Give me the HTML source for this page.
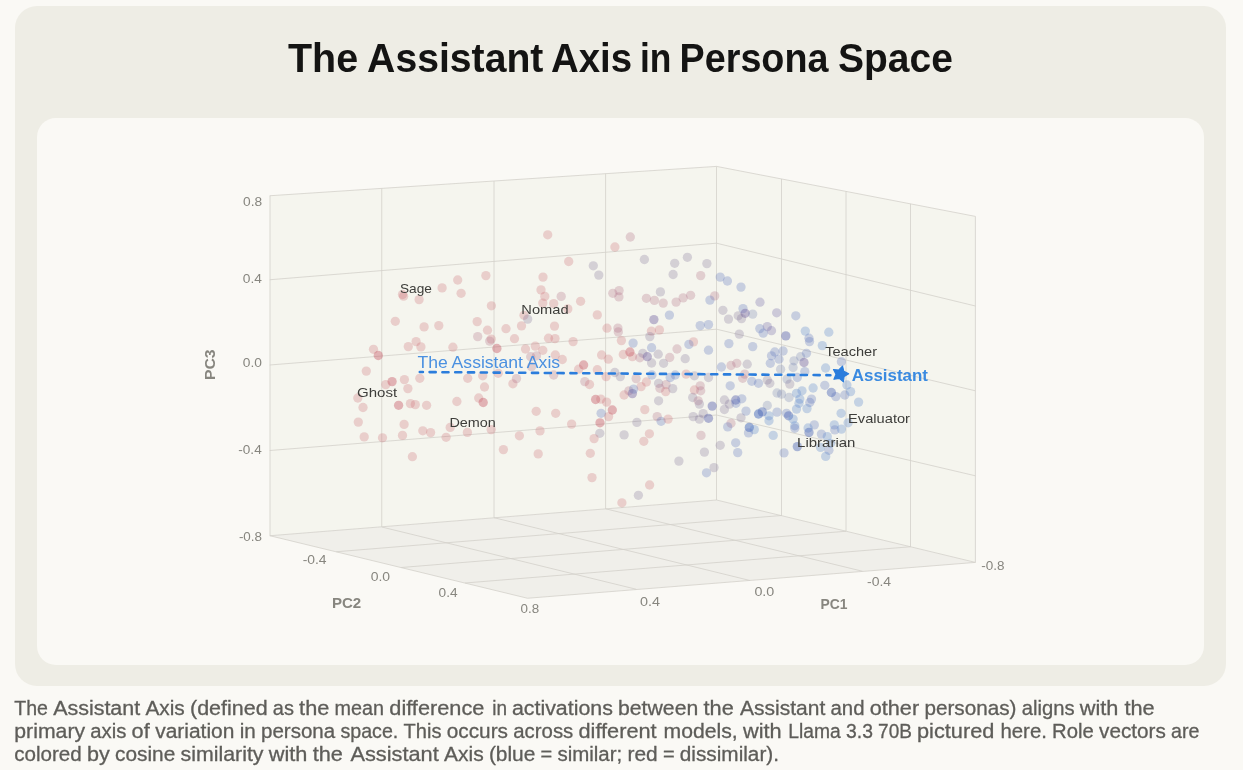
<!DOCTYPE html>
<html><head><meta charset="utf-8"><title>The Assistant Axis in Persona Space</title>
<style>
html,body{margin:0;padding:0;}
body{width:1243px;height:770px;background:#faf9f5;position:relative;overflow:hidden;font-family:"Liberation Sans",sans-serif;}
.outer{position:absolute;left:15px;top:6px;width:1210.5px;height:680px;background:#eeede5;border-radius:22px;}
.inner{position:absolute;left:37px;top:118px;width:1167px;height:546.5px;background:#faf9f5;border-radius:19px;}
svg{position:absolute;left:0;top:0;will-change:transform;}
svg text{font-family:"Liberation Sans",sans-serif;}
.ttl{font-size:41.5px;font-weight:bold;fill:#141413;}
.cap{font-size:19.6px;fill:#5e5d59;stroke:#5e5d59;stroke-width:0.3px;}
.tick{font-size:12.6px;fill:#87867f;}
.ax{font-size:15.3px;font-weight:bold;fill:#87867f;}
.lab{font-size:13.6px;fill:#3d3d3a;}
.axl{font-size:16.6px;fill:#4a90e0;}
.asst{font-size:16.2px;font-weight:bold;fill:#3a8ae0;}
</style></head><body>
<div class="outer"></div>
<div class="inner"></div>
<svg width="1243" height="770" viewBox="0 0 1243 770">
<polygon points="269.70,195.75 716.50,166.40 716.50,500.00 269.70,535.75" fill="#f5f5ee"/>
<polygon points="716.50,166.40 975.40,216.40 975.40,562.40 716.50,500.00" fill="#f5f5ee"/>
<polygon points="270.00,535.75 716.50,500.00 975.40,562.40 527.50,598.25" fill="#f0efea"/>
<path d="M269.70 195.75 L716.50 166.40 L975.40 216.40 M269.70 279.75 L716.50 243.20 L975.40 306.00 M269.70 365.00 L716.50 329.20 L975.40 390.80 M269.70 450.50 L716.50 415.00 L975.40 475.80 M269.70 535.75 L716.50 500.00 L975.40 562.40 M270.00 195.73 L270.00 535.73 M381.75 188.39 L381.75 526.78 M494.00 181.02 L494.00 517.80 M605.60 173.68 L605.60 508.87 M716.50 166.40 L716.50 500.00 M781.50 178.95 L781.50 515.67 M846.00 191.41 L846.00 531.21 M910.50 203.87 L910.50 546.76 M975.40 216.40 L975.40 562.40 M336.25 551.75 L781.50 515.50 M401.25 567.50 L846.00 531.25 M465.00 583.00 L910.50 546.75 M527.50 598.25 L975.40 562.40 M527.50 598.25 L270.00 535.75 M636.25 589.25 L381.75 527.00 M750.00 580.50 L494.00 517.70 M862.50 571.25 L605.60 508.80" fill="none" stroke="#d3d1ca" stroke-width="0.8"/>
<circle cx="402.5" cy="294.5" r="4.65" fill="rgba(203,102,112,0.27)"/>
<circle cx="403.6" cy="296.2" r="4.65" fill="rgba(203,102,112,0.27)"/>
<circle cx="419.1" cy="299.6" r="4.65" fill="rgba(203,102,112,0.27)"/>
<circle cx="442.1" cy="287.9" r="4.65" fill="rgba(203,102,112,0.27)"/>
<circle cx="457.7" cy="280.0" r="4.65" fill="rgba(203,102,112,0.27)"/>
<circle cx="461.1" cy="293.3" r="4.65" fill="rgba(203,102,112,0.27)"/>
<circle cx="485.9" cy="275.6" r="4.65" fill="rgba(203,102,112,0.27)"/>
<circle cx="491.4" cy="305.8" r="4.65" fill="rgba(203,102,112,0.27)"/>
<circle cx="547.7" cy="234.8" r="4.65" fill="rgba(203,102,112,0.27)"/>
<circle cx="543.0" cy="277.1" r="4.65" fill="rgba(203,102,112,0.27)"/>
<circle cx="541.0" cy="289.9" r="4.65" fill="rgba(203,102,112,0.27)"/>
<circle cx="544.8" cy="296.4" r="4.65" fill="rgba(203,102,112,0.27)"/>
<circle cx="542.8" cy="303.1" r="4.65" fill="rgba(203,102,112,0.27)"/>
<circle cx="395.3" cy="321.3" r="4.65" fill="rgba(203,102,112,0.27)"/>
<circle cx="424.1" cy="326.9" r="4.65" fill="rgba(203,102,112,0.27)"/>
<circle cx="438.8" cy="325.6" r="4.65" fill="rgba(203,102,112,0.27)"/>
<circle cx="477.2" cy="321.6" r="4.65" fill="rgba(203,102,112,0.27)"/>
<circle cx="487.5" cy="330.2" r="4.65" fill="rgba(203,102,112,0.27)"/>
<circle cx="477.7" cy="336.6" r="4.65" fill="rgba(172,104,128,0.28)"/>
<circle cx="491.2" cy="339.1" r="4.65" fill="rgba(203,102,112,0.27)"/>
<circle cx="489.7" cy="341.1" r="4.65" fill="rgba(172,104,128,0.28)"/>
<circle cx="506.0" cy="328.7" r="4.65" fill="rgba(203,102,112,0.27)"/>
<circle cx="521.5" cy="325.9" r="4.65" fill="rgba(203,102,112,0.27)"/>
<circle cx="524.0" cy="315.3" r="4.65" fill="rgba(203,102,112,0.27)"/>
<circle cx="527.7" cy="319.1" r="4.65" fill="rgba(126,112,152,0.28)"/>
<circle cx="514.5" cy="338.7" r="4.65" fill="rgba(203,102,112,0.27)"/>
<circle cx="548.5" cy="338.2" r="4.65" fill="rgba(203,102,112,0.27)"/>
<circle cx="416.1" cy="341.6" r="4.65" fill="rgba(203,102,112,0.27)"/>
<circle cx="408.3" cy="346.6" r="4.65" fill="rgba(203,102,112,0.27)"/>
<circle cx="420.9" cy="346.9" r="4.65" fill="rgba(203,102,112,0.27)"/>
<circle cx="373.5" cy="349.3" r="4.65" fill="rgba(203,102,112,0.27)"/>
<circle cx="452.9" cy="347.2" r="4.65" fill="rgba(203,102,112,0.27)"/>
<circle cx="496.9" cy="348.5" r="4.65" fill="rgba(198,86,100,0.42)"/>
<circle cx="525.5" cy="349.0" r="4.65" fill="rgba(203,102,112,0.27)"/>
<circle cx="535.3" cy="346.1" r="4.65" fill="rgba(203,102,112,0.27)"/>
<circle cx="542.8" cy="350.3" r="4.65" fill="rgba(203,102,112,0.27)"/>
<circle cx="630.3" cy="237.0" r="4.65" fill="rgba(172,104,128,0.28)"/>
<circle cx="614.9" cy="247.0" r="4.65" fill="rgba(203,102,112,0.27)"/>
<circle cx="568.7" cy="261.5" r="4.65" fill="rgba(203,102,112,0.27)"/>
<circle cx="593.3" cy="265.8" r="4.65" fill="rgba(126,112,152,0.28)"/>
<circle cx="598.8" cy="275.1" r="4.65" fill="rgba(126,112,152,0.28)"/>
<circle cx="644.4" cy="259.5" r="4.65" fill="rgba(126,112,152,0.28)"/>
<circle cx="674.7" cy="263.3" r="4.65" fill="rgba(126,112,152,0.28)"/>
<circle cx="687.4" cy="257.3" r="4.65" fill="rgba(126,112,152,0.28)"/>
<circle cx="706.9" cy="263.6" r="4.65" fill="rgba(126,112,152,0.28)"/>
<circle cx="673.1" cy="274.5" r="4.65" fill="rgba(126,112,152,0.28)"/>
<circle cx="700.7" cy="275.6" r="4.65" fill="rgba(172,104,128,0.28)"/>
<circle cx="720.2" cy="277.1" r="4.65" fill="rgba(92,116,190,0.30)"/>
<circle cx="727.4" cy="281.0" r="4.65" fill="rgba(92,116,190,0.30)"/>
<circle cx="741.0" cy="287.1" r="4.65" fill="rgba(92,116,190,0.30)"/>
<circle cx="561.2" cy="296.4" r="4.65" fill="rgba(172,104,128,0.28)"/>
<circle cx="580.6" cy="301.3" r="4.65" fill="rgba(203,102,112,0.27)"/>
<circle cx="553.7" cy="303.6" r="4.65" fill="rgba(203,102,112,0.27)"/>
<circle cx="567.8" cy="308.9" r="4.65" fill="rgba(203,102,112,0.27)"/>
<circle cx="597.3" cy="314.9" r="4.65" fill="rgba(203,102,112,0.27)"/>
<circle cx="612.8" cy="293.3" r="4.65" fill="rgba(172,104,128,0.28)"/>
<circle cx="619.1" cy="290.6" r="4.65" fill="rgba(172,104,128,0.28)"/>
<circle cx="618.9" cy="296.9" r="4.65" fill="rgba(172,104,128,0.28)"/>
<circle cx="660.4" cy="291.9" r="4.65" fill="rgba(126,112,152,0.28)"/>
<circle cx="646.4" cy="298.3" r="4.65" fill="rgba(172,104,128,0.28)"/>
<circle cx="654.4" cy="300.4" r="4.65" fill="rgba(172,104,128,0.28)"/>
<circle cx="663.2" cy="303.1" r="4.65" fill="rgba(172,104,128,0.28)"/>
<circle cx="676.1" cy="302.1" r="4.65" fill="rgba(172,104,128,0.28)"/>
<circle cx="683.1" cy="297.9" r="4.65" fill="rgba(172,104,128,0.28)"/>
<circle cx="690.6" cy="295.3" r="4.65" fill="rgba(172,104,128,0.28)"/>
<circle cx="714.7" cy="295.9" r="4.65" fill="rgba(172,104,128,0.28)"/>
<circle cx="709.9" cy="300.1" r="4.65" fill="rgba(92,116,190,0.30)"/>
<circle cx="760.0" cy="302.2" r="4.65" fill="rgba(110,100,165,0.30)"/>
<circle cx="722.9" cy="310.3" r="4.65" fill="rgba(126,112,152,0.28)"/>
<circle cx="728.5" cy="319.1" r="4.65" fill="rgba(126,112,152,0.28)"/>
<circle cx="738.2" cy="315.8" r="4.65" fill="rgba(126,112,152,0.28)"/>
<circle cx="743.0" cy="308.6" r="4.65" fill="rgba(92,116,190,0.30)"/>
<circle cx="745.2" cy="313.3" r="4.65" fill="rgba(112,96,160,0.42)"/>
<circle cx="741.5" cy="318.6" r="4.65" fill="rgba(126,112,152,0.28)"/>
<circle cx="752.7" cy="314.1" r="4.65" fill="rgba(112,124,176,0.28)"/>
<circle cx="669.4" cy="315.1" r="4.65" fill="rgba(92,116,190,0.30)"/>
<circle cx="653.9" cy="319.6" r="4.65" fill="rgba(112,96,160,0.42)"/>
<circle cx="554.5" cy="326.1" r="4.65" fill="rgba(203,102,112,0.27)"/>
<circle cx="607.0" cy="328.2" r="4.65" fill="rgba(203,102,112,0.27)"/>
<circle cx="617.9" cy="328.1" r="4.65" fill="rgba(172,104,128,0.28)"/>
<circle cx="618.3" cy="331.9" r="4.65" fill="rgba(172,104,128,0.28)"/>
<circle cx="659.4" cy="329.9" r="4.65" fill="rgba(203,102,112,0.27)"/>
<circle cx="651.4" cy="331.1" r="4.65" fill="rgba(203,102,112,0.27)"/>
<circle cx="649.8" cy="336.6" r="4.65" fill="rgba(126,112,152,0.28)"/>
<circle cx="700.2" cy="325.6" r="4.65" fill="rgba(92,116,190,0.30)"/>
<circle cx="708.5" cy="324.6" r="4.65" fill="rgba(92,116,190,0.30)"/>
<circle cx="759.8" cy="328.6" r="4.65" fill="rgba(92,116,190,0.30)"/>
<circle cx="739.3" cy="334.1" r="4.65" fill="rgba(126,112,152,0.28)"/>
<circle cx="555.0" cy="338.6" r="4.65" fill="rgba(203,102,112,0.27)"/>
<circle cx="573.1" cy="341.6" r="4.65" fill="rgba(203,102,112,0.27)"/>
<circle cx="621.4" cy="340.6" r="4.65" fill="rgba(203,102,112,0.27)"/>
<circle cx="633.1" cy="343.1" r="4.65" fill="rgba(92,116,190,0.30)"/>
<circle cx="651.6" cy="347.7" r="4.65" fill="rgba(92,116,190,0.30)"/>
<circle cx="629.9" cy="352.0" r="4.65" fill="rgba(198,86,100,0.42)"/>
<circle cx="677.0" cy="349.0" r="4.65" fill="rgba(172,104,128,0.28)"/>
<circle cx="693.5" cy="341.9" r="4.65" fill="rgba(203,102,112,0.27)"/>
<circle cx="688.9" cy="344.4" r="4.65" fill="rgba(92,116,190,0.30)"/>
<circle cx="708.5" cy="350.2" r="4.65" fill="rgba(92,116,190,0.30)"/>
<circle cx="728.9" cy="343.6" r="4.65" fill="rgba(92,116,190,0.30)"/>
<circle cx="752.7" cy="346.6" r="4.65" fill="rgba(92,116,190,0.30)"/>
<circle cx="776.7" cy="312.8" r="4.65" fill="rgba(110,100,165,0.30)"/>
<circle cx="795.8" cy="315.8" r="4.65" fill="rgba(92,116,190,0.30)"/>
<circle cx="767.3" cy="326.6" r="4.65" fill="rgba(110,100,165,0.30)"/>
<circle cx="771.5" cy="330.7" r="4.65" fill="rgba(110,100,165,0.30)"/>
<circle cx="763.2" cy="333.2" r="4.65" fill="rgba(92,116,190,0.30)"/>
<circle cx="785.8" cy="335.9" r="4.65" fill="rgba(92,100,172,0.45)"/>
<circle cx="805.3" cy="331.1" r="4.65" fill="rgba(94,138,206,0.32)"/>
<circle cx="809.0" cy="338.2" r="4.65" fill="rgba(92,116,190,0.30)"/>
<circle cx="809.5" cy="341.6" r="4.65" fill="rgba(92,116,190,0.30)"/>
<circle cx="828.8" cy="332.2" r="4.65" fill="rgba(94,138,206,0.32)"/>
<circle cx="822.3" cy="345.6" r="4.65" fill="rgba(94,138,206,0.32)"/>
<circle cx="378.3" cy="355.5" r="4.65" fill="rgba(198,86,100,0.42)"/>
<circle cx="366.3" cy="371.1" r="4.65" fill="rgba(203,102,112,0.27)"/>
<circle cx="385.8" cy="384.6" r="4.65" fill="rgba(203,102,112,0.27)"/>
<circle cx="392.1" cy="381.6" r="4.65" fill="rgba(198,86,100,0.42)"/>
<circle cx="404.4" cy="379.6" r="4.65" fill="rgba(203,102,112,0.27)"/>
<circle cx="407.9" cy="388.6" r="4.65" fill="rgba(203,102,112,0.27)"/>
<circle cx="419.8" cy="378.3" r="4.65" fill="rgba(203,102,112,0.27)"/>
<circle cx="357.8" cy="398.0" r="4.65" fill="rgba(203,102,112,0.27)"/>
<circle cx="363.0" cy="407.5" r="4.65" fill="rgba(203,102,112,0.27)"/>
<circle cx="358.3" cy="422.1" r="4.65" fill="rgba(203,102,112,0.27)"/>
<circle cx="364.2" cy="436.9" r="4.65" fill="rgba(203,102,112,0.27)"/>
<circle cx="382.5" cy="437.8" r="4.65" fill="rgba(203,102,112,0.27)"/>
<circle cx="398.6" cy="405.3" r="4.65" fill="rgba(198,86,100,0.42)"/>
<circle cx="410.4" cy="403.6" r="4.65" fill="rgba(203,102,112,0.27)"/>
<circle cx="415.3" cy="404.6" r="4.65" fill="rgba(203,102,112,0.27)"/>
<circle cx="426.6" cy="405.3" r="4.65" fill="rgba(203,102,112,0.27)"/>
<circle cx="404.1" cy="424.4" r="4.65" fill="rgba(203,102,112,0.27)"/>
<circle cx="402.5" cy="435.4" r="4.65" fill="rgba(203,102,112,0.27)"/>
<circle cx="422.8" cy="430.8" r="4.65" fill="rgba(203,102,112,0.27)"/>
<circle cx="430.6" cy="432.6" r="4.65" fill="rgba(203,102,112,0.27)"/>
<circle cx="412.4" cy="456.7" r="4.65" fill="rgba(203,102,112,0.27)"/>
<circle cx="456.9" cy="401.5" r="4.65" fill="rgba(203,102,112,0.27)"/>
<circle cx="450.2" cy="427.4" r="4.65" fill="rgba(203,102,112,0.27)"/>
<circle cx="446.1" cy="437.3" r="4.65" fill="rgba(203,102,112,0.27)"/>
<circle cx="467.4" cy="432.4" r="4.65" fill="rgba(203,102,112,0.27)"/>
<circle cx="467.7" cy="378.3" r="4.65" fill="rgba(203,102,112,0.27)"/>
<circle cx="482.7" cy="375.8" r="4.65" fill="rgba(203,102,112,0.27)"/>
<circle cx="484.5" cy="387.0" r="4.65" fill="rgba(203,102,112,0.27)"/>
<circle cx="478.7" cy="398.0" r="4.65" fill="rgba(203,102,112,0.27)"/>
<circle cx="483.2" cy="402.5" r="4.65" fill="rgba(198,86,100,0.42)"/>
<circle cx="491.2" cy="429.6" r="4.65" fill="rgba(203,102,112,0.27)"/>
<circle cx="498.2" cy="373.3" r="4.65" fill="rgba(203,102,112,0.27)"/>
<circle cx="512.9" cy="383.8" r="4.65" fill="rgba(203,102,112,0.27)"/>
<circle cx="516.5" cy="378.6" r="4.65" fill="rgba(172,104,128,0.28)"/>
<circle cx="536.2" cy="411.3" r="4.65" fill="rgba(203,102,112,0.27)"/>
<circle cx="519.4" cy="435.8" r="4.65" fill="rgba(203,102,112,0.27)"/>
<circle cx="540.0" cy="430.9" r="4.65" fill="rgba(203,102,112,0.27)"/>
<circle cx="503.4" cy="449.6" r="4.65" fill="rgba(203,102,112,0.27)"/>
<circle cx="538.2" cy="453.9" r="4.65" fill="rgba(203,102,112,0.27)"/>
<circle cx="530.7" cy="356.7" r="4.65" fill="rgba(172,104,128,0.28)"/>
<circle cx="536.5" cy="355.8" r="4.65" fill="rgba(172,104,128,0.28)"/>
<circle cx="531.5" cy="366.7" r="4.65" fill="rgba(172,104,128,0.28)"/>
<circle cx="555.3" cy="355.0" r="4.65" fill="rgba(203,102,112,0.27)"/>
<circle cx="562.3" cy="359.5" r="4.65" fill="rgba(203,102,112,0.27)"/>
<circle cx="601.6" cy="355.0" r="4.65" fill="rgba(203,102,112,0.27)"/>
<circle cx="608.3" cy="359.2" r="4.65" fill="rgba(203,102,112,0.27)"/>
<circle cx="583.6" cy="365.0" r="4.65" fill="rgba(198,86,100,0.42)"/>
<circle cx="578.6" cy="369.2" r="4.65" fill="rgba(203,102,112,0.27)"/>
<circle cx="597.3" cy="369.7" r="4.65" fill="rgba(203,102,112,0.27)"/>
<circle cx="623.3" cy="354.5" r="4.65" fill="rgba(203,102,112,0.27)"/>
<circle cx="632.4" cy="356.7" r="4.65" fill="rgba(203,102,112,0.27)"/>
<circle cx="639.8" cy="357.8" r="4.65" fill="rgba(172,104,128,0.28)"/>
<circle cx="642.8" cy="353.3" r="4.65" fill="rgba(126,112,152,0.28)"/>
<circle cx="647.3" cy="356.7" r="4.65" fill="rgba(112,96,160,0.42)"/>
<circle cx="651.6" cy="363.0" r="4.65" fill="rgba(126,112,152,0.28)"/>
<circle cx="658.2" cy="354.2" r="4.65" fill="rgba(126,112,152,0.28)"/>
<circle cx="663.6" cy="363.3" r="4.65" fill="rgba(126,112,152,0.28)"/>
<circle cx="669.7" cy="357.5" r="4.65" fill="rgba(172,104,128,0.28)"/>
<circle cx="685.2" cy="358.7" r="4.65" fill="rgba(126,112,152,0.28)"/>
<circle cx="721.4" cy="367.0" r="4.65" fill="rgba(92,116,190,0.30)"/>
<circle cx="731.0" cy="365.5" r="4.65" fill="rgba(172,104,128,0.28)"/>
<circle cx="736.8" cy="363.3" r="4.65" fill="rgba(172,104,128,0.28)"/>
<circle cx="747.2" cy="364.2" r="4.65" fill="rgba(126,112,152,0.28)"/>
<circle cx="553.7" cy="375.0" r="4.65" fill="rgba(172,104,128,0.28)"/>
<circle cx="584.8" cy="381.6" r="4.65" fill="rgba(172,104,128,0.28)"/>
<circle cx="589.5" cy="384.5" r="4.65" fill="rgba(203,102,112,0.27)"/>
<circle cx="606.1" cy="376.6" r="4.65" fill="rgba(203,102,112,0.27)"/>
<circle cx="614.8" cy="372.5" r="4.65" fill="rgba(126,112,152,0.28)"/>
<circle cx="620.3" cy="376.6" r="4.65" fill="rgba(126,112,152,0.28)"/>
<circle cx="636.1" cy="378.6" r="4.65" fill="rgba(172,104,128,0.28)"/>
<circle cx="646.4" cy="382.0" r="4.65" fill="rgba(203,102,112,0.27)"/>
<circle cx="641.1" cy="386.6" r="4.65" fill="rgba(203,102,112,0.27)"/>
<circle cx="651.9" cy="375.0" r="4.65" fill="rgba(92,116,190,0.30)"/>
<circle cx="658.6" cy="383.3" r="4.65" fill="rgba(126,112,152,0.28)"/>
<circle cx="659.9" cy="388.3" r="4.65" fill="rgba(172,104,128,0.28)"/>
<circle cx="666.1" cy="384.6" r="4.65" fill="rgba(172,104,128,0.28)"/>
<circle cx="665.7" cy="391.6" r="4.65" fill="rgba(203,102,112,0.27)"/>
<circle cx="672.7" cy="388.6" r="4.65" fill="rgba(126,112,152,0.28)"/>
<circle cx="670.2" cy="377.5" r="4.65" fill="rgba(92,116,190,0.30)"/>
<circle cx="675.2" cy="375.0" r="4.65" fill="rgba(92,116,190,0.30)"/>
<circle cx="686.1" cy="374.1" r="4.65" fill="rgba(203,102,112,0.27)"/>
<circle cx="694.4" cy="375.8" r="4.65" fill="rgba(126,112,152,0.28)"/>
<circle cx="708.5" cy="377.5" r="4.65" fill="rgba(126,112,152,0.28)"/>
<circle cx="700.2" cy="385.8" r="4.65" fill="rgba(172,104,128,0.28)"/>
<circle cx="694.4" cy="390.0" r="4.65" fill="rgba(203,102,112,0.27)"/>
<circle cx="700.7" cy="390.8" r="4.65" fill="rgba(172,104,128,0.28)"/>
<circle cx="730.2" cy="385.8" r="4.65" fill="rgba(92,116,190,0.30)"/>
<circle cx="744.7" cy="374.1" r="4.65" fill="rgba(172,104,128,0.28)"/>
<circle cx="742.7" cy="378.3" r="4.65" fill="rgba(172,104,128,0.28)"/>
<circle cx="751.8" cy="381.3" r="4.65" fill="rgba(92,116,190,0.30)"/>
<circle cx="758.5" cy="383.3" r="4.65" fill="rgba(92,116,190,0.30)"/>
<circle cx="624.1" cy="395.0" r="4.65" fill="rgba(203,102,112,0.27)"/>
<circle cx="628.9" cy="390.8" r="4.65" fill="rgba(172,104,128,0.28)"/>
<circle cx="632.4" cy="393.6" r="4.65" fill="rgba(112,96,160,0.42)"/>
<circle cx="633.6" cy="389.1" r="4.65" fill="rgba(92,116,190,0.30)"/>
<circle cx="658.6" cy="400.8" r="4.65" fill="rgba(126,112,152,0.28)"/>
<circle cx="692.7" cy="397.5" r="4.65" fill="rgba(126,112,152,0.28)"/>
<circle cx="698.2" cy="400.8" r="4.65" fill="rgba(172,104,128,0.28)"/>
<circle cx="699.4" cy="404.1" r="4.65" fill="rgba(126,112,152,0.28)"/>
<circle cx="712.2" cy="406.1" r="4.65" fill="rgba(92,100,172,0.45)"/>
<circle cx="724.4" cy="400.0" r="4.65" fill="rgba(126,112,152,0.28)"/>
<circle cx="729.4" cy="404.1" r="4.65" fill="rgba(126,112,152,0.28)"/>
<circle cx="735.7" cy="400.0" r="4.65" fill="rgba(92,100,172,0.45)"/>
<circle cx="736.0" cy="403.3" r="4.65" fill="rgba(92,116,190,0.30)"/>
<circle cx="741.8" cy="398.8" r="4.65" fill="rgba(92,116,190,0.30)"/>
<circle cx="724.4" cy="409.5" r="4.65" fill="rgba(126,112,152,0.28)"/>
<circle cx="746.0" cy="411.1" r="4.65" fill="rgba(92,116,190,0.30)"/>
<circle cx="758.5" cy="414.0" r="4.65" fill="rgba(70,106,188,0.50)"/>
<circle cx="595.6" cy="399.5" r="4.65" fill="rgba(198,86,100,0.42)"/>
<circle cx="600.8" cy="399.1" r="4.65" fill="rgba(203,102,112,0.27)"/>
<circle cx="606.6" cy="402.1" r="4.65" fill="rgba(203,102,112,0.27)"/>
<circle cx="612.3" cy="410.0" r="4.65" fill="rgba(198,86,100,0.42)"/>
<circle cx="608.6" cy="416.6" r="4.65" fill="rgba(203,102,112,0.27)"/>
<circle cx="601.1" cy="413.3" r="4.65" fill="rgba(92,116,190,0.30)"/>
<circle cx="555.7" cy="413.3" r="4.65" fill="rgba(203,102,112,0.27)"/>
<circle cx="644.8" cy="409.6" r="4.65" fill="rgba(203,102,112,0.27)"/>
<circle cx="657.2" cy="416.6" r="4.65" fill="rgba(172,104,128,0.28)"/>
<circle cx="661.1" cy="421.3" r="4.65" fill="rgba(92,116,190,0.30)"/>
<circle cx="668.1" cy="419.1" r="4.65" fill="rgba(203,102,112,0.27)"/>
<circle cx="636.9" cy="422.4" r="4.65" fill="rgba(126,112,152,0.28)"/>
<circle cx="600.0" cy="422.8" r="4.65" fill="rgba(198,86,100,0.42)"/>
<circle cx="571.6" cy="424.1" r="4.65" fill="rgba(203,102,112,0.27)"/>
<circle cx="693.2" cy="416.6" r="4.65" fill="rgba(126,112,152,0.28)"/>
<circle cx="699.4" cy="419.1" r="4.65" fill="rgba(126,112,152,0.28)"/>
<circle cx="703.2" cy="413.6" r="4.65" fill="rgba(126,112,152,0.28)"/>
<circle cx="708.5" cy="418.3" r="4.65" fill="rgba(92,100,172,0.45)"/>
<circle cx="741.0" cy="417.8" r="4.65" fill="rgba(126,112,152,0.28)"/>
<circle cx="731.0" cy="423.3" r="4.65" fill="rgba(172,104,128,0.28)"/>
<circle cx="727.7" cy="426.9" r="4.65" fill="rgba(92,116,190,0.30)"/>
<circle cx="749.3" cy="427.4" r="4.65" fill="rgba(70,106,188,0.50)"/>
<circle cx="754.3" cy="429.6" r="4.65" fill="rgba(94,138,206,0.32)"/>
<circle cx="748.5" cy="432.9" r="4.65" fill="rgba(92,116,190,0.30)"/>
<circle cx="599.8" cy="433.3" r="4.65" fill="rgba(126,112,152,0.28)"/>
<circle cx="594.1" cy="438.6" r="4.65" fill="rgba(203,102,112,0.27)"/>
<circle cx="590.3" cy="453.3" r="4.65" fill="rgba(203,102,112,0.27)"/>
<circle cx="592.0" cy="477.6" r="4.65" fill="rgba(203,102,112,0.27)"/>
<circle cx="624.1" cy="434.9" r="4.65" fill="rgba(126,112,152,0.28)"/>
<circle cx="649.4" cy="433.8" r="4.65" fill="rgba(203,102,112,0.27)"/>
<circle cx="643.8" cy="441.3" r="4.65" fill="rgba(203,102,112,0.27)"/>
<circle cx="701.0" cy="435.4" r="4.65" fill="rgba(172,104,128,0.28)"/>
<circle cx="704.4" cy="452.1" r="4.65" fill="rgba(126,112,152,0.28)"/>
<circle cx="720.2" cy="445.3" r="4.65" fill="rgba(126,112,152,0.28)"/>
<circle cx="735.7" cy="442.8" r="4.65" fill="rgba(92,116,190,0.30)"/>
<circle cx="737.7" cy="452.6" r="4.65" fill="rgba(92,116,190,0.30)"/>
<circle cx="678.9" cy="461.1" r="4.65" fill="rgba(126,112,152,0.28)"/>
<circle cx="714.0" cy="467.6" r="4.65" fill="rgba(126,112,152,0.28)"/>
<circle cx="706.5" cy="472.8" r="4.65" fill="rgba(92,116,190,0.30)"/>
<circle cx="649.6" cy="485.0" r="4.65" fill="rgba(203,102,112,0.27)"/>
<circle cx="638.4" cy="495.3" r="4.65" fill="rgba(126,112,152,0.28)"/>
<circle cx="621.9" cy="502.8" r="4.65" fill="rgba(203,102,112,0.27)"/>
<circle cx="771.5" cy="355.8" r="4.65" fill="rgba(92,116,190,0.30)"/>
<circle cx="774.8" cy="352.0" r="4.65" fill="rgba(92,116,190,0.30)"/>
<circle cx="783.1" cy="351.0" r="4.65" fill="rgba(92,116,190,0.30)"/>
<circle cx="770.3" cy="363.3" r="4.65" fill="rgba(92,116,190,0.30)"/>
<circle cx="779.0" cy="359.2" r="4.65" fill="rgba(92,116,190,0.30)"/>
<circle cx="794.0" cy="360.8" r="4.65" fill="rgba(112,124,176,0.28)"/>
<circle cx="800.6" cy="356.7" r="4.65" fill="rgba(112,124,176,0.28)"/>
<circle cx="804.0" cy="362.5" r="4.65" fill="rgba(112,96,160,0.42)"/>
<circle cx="806.5" cy="353.3" r="4.65" fill="rgba(92,116,190,0.30)"/>
<circle cx="780.6" cy="369.2" r="4.65" fill="rgba(112,124,176,0.28)"/>
<circle cx="793.1" cy="367.5" r="4.65" fill="rgba(112,124,176,0.28)"/>
<circle cx="804.8" cy="371.6" r="4.65" fill="rgba(92,116,190,0.30)"/>
<circle cx="825.6" cy="368.0" r="4.65" fill="rgba(94,138,206,0.32)"/>
<circle cx="841.4" cy="361.7" r="4.65" fill="rgba(92,116,190,0.30)"/>
<circle cx="797.3" cy="377.5" r="4.65" fill="rgba(92,116,190,0.30)"/>
<circle cx="787.0" cy="379.1" r="4.65" fill="rgba(112,124,176,0.28)"/>
<circle cx="789.8" cy="384.1" r="4.65" fill="rgba(126,112,152,0.28)"/>
<circle cx="767.3" cy="380.0" r="4.65" fill="rgba(126,112,152,0.28)"/>
<circle cx="769.8" cy="383.3" r="4.65" fill="rgba(126,112,152,0.28)"/>
<circle cx="824.8" cy="385.3" r="4.65" fill="rgba(92,116,190,0.30)"/>
<circle cx="813.1" cy="388.0" r="4.65" fill="rgba(94,138,206,0.32)"/>
<circle cx="802.0" cy="390.8" r="4.65" fill="rgba(94,138,206,0.32)"/>
<circle cx="796.5" cy="393.3" r="4.65" fill="rgba(94,138,206,0.32)"/>
<circle cx="777.0" cy="393.0" r="4.65" fill="rgba(112,124,176,0.28)"/>
<circle cx="781.5" cy="394.1" r="4.65" fill="rgba(112,124,176,0.28)"/>
<circle cx="789.0" cy="397.5" r="4.65" fill="rgba(112,124,176,0.28)"/>
<circle cx="799.8" cy="399.1" r="4.65" fill="rgba(94,138,206,0.32)"/>
<circle cx="811.5" cy="399.1" r="4.65" fill="rgba(92,116,190,0.30)"/>
<circle cx="809.8" cy="402.5" r="4.65" fill="rgba(92,116,190,0.30)"/>
<circle cx="799.0" cy="403.3" r="4.65" fill="rgba(94,138,206,0.32)"/>
<circle cx="807.0" cy="408.6" r="4.65" fill="rgba(94,138,206,0.32)"/>
<circle cx="796.5" cy="409.1" r="4.65" fill="rgba(94,138,206,0.32)"/>
<circle cx="831.4" cy="392.5" r="4.65" fill="rgba(78,104,182,0.46)"/>
<circle cx="835.9" cy="396.6" r="4.65" fill="rgba(92,116,190,0.30)"/>
<circle cx="844.8" cy="395.0" r="4.65" fill="rgba(92,116,190,0.30)"/>
<circle cx="850.6" cy="391.6" r="4.65" fill="rgba(94,138,206,0.32)"/>
<circle cx="846.9" cy="385.0" r="4.65" fill="rgba(94,138,206,0.32)"/>
<circle cx="858.6" cy="402.1" r="4.65" fill="rgba(94,138,206,0.32)"/>
<circle cx="767.3" cy="405.5" r="4.65" fill="rgba(112,124,176,0.28)"/>
<circle cx="762.3" cy="411.9" r="4.65" fill="rgba(78,104,182,0.46)"/>
<circle cx="769.0" cy="415.8" r="4.65" fill="rgba(94,138,206,0.32)"/>
<circle cx="769.0" cy="420.8" r="4.65" fill="rgba(94,138,206,0.32)"/>
<circle cx="777.0" cy="412.1" r="4.65" fill="rgba(92,116,190,0.30)"/>
<circle cx="786.5" cy="413.3" r="4.65" fill="rgba(92,116,190,0.30)"/>
<circle cx="788.6" cy="415.8" r="4.65" fill="rgba(78,104,182,0.46)"/>
<circle cx="793.1" cy="419.1" r="4.65" fill="rgba(94,138,206,0.32)"/>
<circle cx="794.8" cy="425.8" r="4.65" fill="rgba(94,138,206,0.32)"/>
<circle cx="794.8" cy="428.3" r="4.65" fill="rgba(92,116,190,0.30)"/>
<circle cx="841.1" cy="413.3" r="4.65" fill="rgba(94,138,206,0.32)"/>
<circle cx="814.3" cy="424.9" r="4.65" fill="rgba(92,116,190,0.30)"/>
<circle cx="808.1" cy="428.0" r="4.65" fill="rgba(94,138,206,0.32)"/>
<circle cx="809.0" cy="432.4" r="4.65" fill="rgba(78,104,182,0.46)"/>
<circle cx="834.3" cy="424.9" r="4.65" fill="rgba(94,138,206,0.32)"/>
<circle cx="834.8" cy="429.9" r="4.65" fill="rgba(92,116,190,0.30)"/>
<circle cx="841.4" cy="429.1" r="4.65" fill="rgba(94,138,206,0.32)"/>
<circle cx="848.1" cy="422.8" r="4.65" fill="rgba(94,138,206,0.32)"/>
<circle cx="821.4" cy="434.1" r="4.65" fill="rgba(92,116,190,0.30)"/>
<circle cx="827.3" cy="436.6" r="4.65" fill="rgba(94,138,206,0.32)"/>
<circle cx="773.2" cy="435.4" r="4.65" fill="rgba(94,138,206,0.32)"/>
<circle cx="797.3" cy="446.6" r="4.65" fill="rgba(78,104,182,0.46)"/>
<circle cx="784.0" cy="452.9" r="4.65" fill="rgba(92,116,190,0.30)"/>
<circle cx="820.6" cy="447.4" r="4.65" fill="rgba(94,138,206,0.32)"/>
<circle cx="828.9" cy="450.3" r="4.65" fill="rgba(92,116,190,0.30)"/>
<circle cx="825.7" cy="456.4" r="4.65" fill="rgba(94,138,206,0.32)"/>
<circle cx="830.6" cy="443.3" r="4.65" fill="rgba(94,138,206,0.32)"/>
<path d="M419.8 372.0 L830.4 375.2" stroke="#2b7ddc" stroke-width="2.6" stroke-linecap="round" stroke-dasharray="6.1 6.7" stroke-dashoffset="3" fill="none"/>
<polygon points="842.55,366.08 843.86,371.30 848.69,373.67 844.13,376.52 843.37,381.85 839.25,378.40 833.95,379.32 835.96,374.33 833.44,369.58 838.81,369.95" fill="#2b7ddc" stroke="#2b7ddc" stroke-width="1.1" stroke-linejoin="round"/>
<text x="288.00" y="72.10" class="ttl" textLength="70.10" lengthAdjust="spacingAndGlyphs">The</text>
<text x="367.10" y="72.10" class="ttl" textLength="176.30" lengthAdjust="spacingAndGlyphs">Assistant</text>
<text x="550.90" y="72.10" class="ttl" textLength="81.20" lengthAdjust="spacingAndGlyphs">Axis</text>
<text x="640.00" y="72.10" class="ttl" textLength="31.40" lengthAdjust="spacingAndGlyphs">in</text>
<text x="679.60" y="72.10" class="ttl" textLength="148.80" lengthAdjust="spacingAndGlyphs">Persona</text>
<text x="838.00" y="72.10" class="ttl" textLength="114.90" lengthAdjust="spacingAndGlyphs">Space</text>
<text class="cap" transform="translate(14.30,714.80) scale(0.998,1)">The</text>
<text class="cap" transform="translate(53.20,714.80) scale(1.094,1)">Assistant</text>
<text class="cap" transform="translate(145.40,714.80) scale(1.064,1)">Axis</text>
<text class="cap" transform="translate(190.00,714.80) scale(1.096,1)">(defined</text>
<text class="cap" transform="translate(272.80,714.80) scale(1.019,1)">as</text>
<text class="cap" transform="translate(299.10,714.80) scale(1.110,1)">the</text>
<text class="cap" transform="translate(334.60,714.80) scale(1.010,1)">mean</text>
<text class="cap" transform="translate(389.30,714.80) scale(1.110,1)">difference</text>
<text class="cap" transform="translate(492.30,714.80) scale(0.970,1)">in</text>
<text class="cap" transform="translate(511.90,714.80) scale(1.090,1)">activations</text>
<text class="cap" transform="translate(618.00,714.80) scale(1.084,1)">between</text>
<text class="cap" transform="translate(703.50,714.80) scale(1.110,1)">the</text>
<text class="cap" transform="translate(740.00,714.80) scale(1.073,1)">Assistant</text>
<text class="cap" transform="translate(830.50,714.80) scale(1.040,1)">and</text>
<text class="cap" transform="translate(869.70,714.80) scale(1.108,1)">other</text>
<text class="cap" transform="translate(924.40,714.80) scale(1.057,1)">personas)</text>
<text class="cap" transform="translate(1021.70,714.80) scale(1.033,1)">aligns</text>
<text class="cap" transform="translate(1079.80,714.80) scale(1.110,1)">with</text>
<text class="cap" transform="translate(1124.40,714.80) scale(1.110,1)">the</text>
<text class="cap" transform="translate(14.30,737.60) scale(1.084,1)">primary</text>
<text class="cap" transform="translate(90.30,737.60) scale(1.036,1)">axis</text>
<text class="cap" transform="translate(131.60,737.60) scale(1.110,1)">of</text>
<text class="cap" transform="translate(155.20,737.60) scale(1.070,1)">variation</text>
<text class="cap" transform="translate(239.70,737.60) scale(1.055,1)">in</text>
<text class="cap" transform="translate(261.00,737.60) scale(1.048,1)">persona</text>
<text class="cap" transform="translate(340.40,737.60) scale(1.004,1)">space.</text>
<text class="cap" transform="translate(403.60,737.60) scale(1.024,1)">This</text>
<text class="cap" transform="translate(446.70,737.60) scale(1.062,1)">occurs</text>
<text class="cap" transform="translate(513.20,737.60) scale(1.041,1)">across</text>
<text class="cap" transform="translate(578.50,737.60) scale(1.110,1)">different</text>
<text class="cap" transform="translate(663.60,737.60) scale(1.081,1)">models,</text>
<text class="cap" transform="translate(743.00,737.60) scale(1.110,1)">with</text>
<text class="cap" transform="translate(788.30,737.60) scale(0.983,1)">Llama</text>
<text class="cap" transform="translate(846.00,737.60) scale(0.987,1)">3.3</text>
<text class="cap" transform="translate(878.10,737.60) scale(0.970,1)">70B</text>
<text class="cap" transform="translate(917.00,737.60) scale(1.110,1)">pictured</text>
<text class="cap" transform="translate(1000.40,737.60) scale(1.041,1)">here.</text>
<text class="cap" transform="translate(1052.10,737.60) scale(1.037,1)">Role</text>
<text class="cap" transform="translate(1099.10,737.60) scale(1.057,1)">vectors</text>
<text class="cap" transform="translate(1171.10,737.60) scale(1.003,1)">are</text>
<text class="cap" transform="translate(14.30,760.80) scale(1.050,1)">colored</text>
<text class="cap" transform="translate(87.00,760.80) scale(1.101,1)">by</text>
<text class="cap" transform="translate(115.00,760.80) scale(1.064,1)">cosine</text>
<text class="cap" transform="translate(180.50,760.80) scale(1.089,1)">similarity</text>
<text class="cap" transform="translate(268.70,760.80) scale(1.110,1)">with</text>
<text class="cap" transform="translate(312.70,760.80) scale(1.110,1)">the</text>
<text class="cap" transform="translate(350.50,760.80) scale(1.110,1)">Assistant</text>
<text class="cap" transform="translate(444.00,760.80) scale(1.072,1)">Axis</text>
<text class="cap" transform="translate(488.90,760.80) scale(1.067,1)">(blue</text>
<text class="cap" transform="translate(540.60,760.80) scale(1.022,1)">=</text>
<text class="cap" transform="translate(557.50,760.80) scale(1.044,1)">similar;</text>
<text class="cap" transform="translate(627.50,760.80) scale(1.066,1)">red</text>
<text class="cap" transform="translate(662.90,760.80) scale(1.022,1)">=</text>
<text class="cap" transform="translate(679.80,760.80) scale(1.060,1)">dissimilar).</text>
<text x="243.10" y="206.40" class="tick" textLength="19.10" lengthAdjust="spacingAndGlyphs">0.8</text>
<text x="242.80" y="283.30" class="tick" textLength="19.10" lengthAdjust="spacingAndGlyphs">0.4</text>
<text x="242.80" y="367.10" class="tick" textLength="19.10" lengthAdjust="spacingAndGlyphs">0.0</text>
<text x="238.30" y="454.10" class="tick" textLength="23.40" lengthAdjust="spacingAndGlyphs">-0.4</text>
<text x="238.90" y="541.30" class="tick" textLength="23.10" lengthAdjust="spacingAndGlyphs">-0.8</text>
<text x="302.70" y="563.50" class="tick" textLength="23.90" lengthAdjust="spacingAndGlyphs">-0.4</text>
<text x="370.70" y="580.60" class="tick" textLength="19.40" lengthAdjust="spacingAndGlyphs">0.0</text>
<text x="438.60" y="596.50" class="tick" textLength="19.00" lengthAdjust="spacingAndGlyphs">0.4</text>
<text x="520.50" y="613.40" class="tick" textLength="18.60" lengthAdjust="spacingAndGlyphs">0.8</text>
<text x="640.10" y="606.00" class="tick" textLength="20.00" lengthAdjust="spacingAndGlyphs">0.4</text>
<text x="754.40" y="596.30" class="tick" textLength="19.90" lengthAdjust="spacingAndGlyphs">0.0</text>
<text x="867.00" y="585.70" class="tick" textLength="24.10" lengthAdjust="spacingAndGlyphs">-0.4</text>
<text x="981.20" y="569.60" class="tick" textLength="23.20" lengthAdjust="spacingAndGlyphs">-0.8</text>
<text x="331.90" y="608.40" class="ax" textLength="29.30" lengthAdjust="spacingAndGlyphs">PC2</text>
<text x="820.50" y="609.20" class="ax" textLength="27.00" lengthAdjust="spacingAndGlyphs">PC1</text>
<text class="ax" transform="translate(215.3,379.9) rotate(-90)" textLength="30.5" lengthAdjust="spacingAndGlyphs">PC3</text>
<text x="400.00" y="292.50" class="lab" textLength="31.90" lengthAdjust="spacingAndGlyphs">Sage</text>
<text x="521.30" y="314.10" class="lab" textLength="47.30" lengthAdjust="spacingAndGlyphs">Nomad</text>
<text x="357.00" y="396.60" class="lab" textLength="40.10" lengthAdjust="spacingAndGlyphs">Ghost</text>
<text x="449.40" y="426.60" class="lab" textLength="46.50" lengthAdjust="spacingAndGlyphs">Demon</text>
<text x="825.20" y="355.90" class="lab" textLength="51.90" lengthAdjust="spacingAndGlyphs">Teacher</text>
<text x="848.10" y="422.50" class="lab" textLength="61.90" lengthAdjust="spacingAndGlyphs">Evaluator</text>
<text x="797.10" y="446.75" class="lab" textLength="58.30" lengthAdjust="spacingAndGlyphs">Librarian</text>
<text x="417.40" y="368.00" class="axl" textLength="142.70" lengthAdjust="spacingAndGlyphs">The Assistant Axis</text>
<text x="851.80" y="380.50" class="asst" textLength="76.20" lengthAdjust="spacingAndGlyphs">Assistant</text>
</svg>
</body></html>
